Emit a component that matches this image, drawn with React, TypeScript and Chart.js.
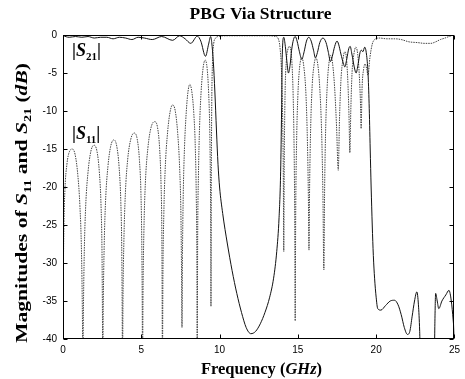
import React, { useEffect, useRef } from "react";
import { Chart, registerables } from "chart.js";

Chart.register(...registerables);

// ---- data ----
const s21Freq = [
  0, 0.4, 0.8, 1.2, 1.6, 2.0, 2.4, 2.8, 3.2, 3.6, 4.0, 4.4, 4.8, 5.2, 5.7, 6.3, 7.0, 7.45, 7.8, 8.16,
  8.58, 8.8, 9.1, 9.3, 9.43, 9.5, 9.6, 9.7, 9.8, 9.9, 10.0, 10.2, 10.5, 10.8, 11.1, 11.4, 11.7, 12.0,
  12.3, 12.6, 12.9, 13.2, 13.45, 13.65, 13.8, 13.9, 13.96, 14.0, 14.1, 14.2, 14.3, 14.4, 14.5, 14.6,
  14.72, 14.83, 14.95, 15.1, 15.25, 15.4, 15.55, 15.7, 15.85, 16.0, 16.12, 16.25, 16.4, 16.6, 16.8,
  16.95, 17.08, 17.2, 17.35, 17.5, 17.6, 17.75, 17.9, 18.0, 18.12, 18.25, 18.34, 18.45, 18.6, 18.72,
  18.85, 18.97, 19.06, 19.15, 19.27, 19.38, 19.48, 19.55, 19.62, 19.68, 19.75, 19.82, 19.9, 20.0,
  20.1, 20.3, 20.6, 20.9, 21.17, 21.4, 21.6, 21.8, 22.0, 22.15, 22.3, 22.45, 22.6, 22.7, 22.78, 22.85,
  23.7, 23.75, 23.8, 23.9, 24.0, 24.2, 24.45, 24.65, 24.8, 24.92, 25.0,
];
const s21Mag = [
  -0.1, -0.3, -0.2, -0.3, -0.2, -0.4, -0.3, -0.3, -0.5, -0.3, -0.4, -0.6, -0.3, -0.4, -0.6, -0.2, -0.7, -0.1, -0.5, -1.1,
  -0.15, -0.8, -2.8, -1.2, -0.2, -1.0, -3.5, -7.5, -12.5, -17, -20, -23.5, -27.5, -31, -34, -36.5, -38.5, -39.3,
  -39, -38, -36.5, -34.5, -32, -28.5, -24, -18, -10, -3, -0.3, -1.5, -3.5, -5, -4, -2,
  -0.6, -0.2, -0.8, -2.2, -3.2, -2.2, -0.8, -0.3, -0.8, -2, -3, -2.3, -1, -0.4, -1,
  -2.3, -3.5, -2.8, -1.5, -0.8, -1.2, -2.5, -3.7, -4.2, -3.2, -1.8, -1.5, -2.5, -4.2, -5.0,
  -3.8, -2.3, -2, -2.2, -1.6, -2.5, -5, -9, -15, -20, -25, -29, -32, -34.5,
  -36, -36.2, -35.6, -35, -34.9, -35.5, -36.8, -38.5, -39.4, -39, -37, -35, -33.8, -35.5, -39, -45,
  -45, -38, -34, -35, -36, -35, -34.2, -33.6, -35, -37.5, -39.5,
];

const s11Freq = [
  0, 0.02, 0.06, 0.12, 0.25, 0.42, 0.6, 0.78, 0.95, 1.08, 1.18, 1.24, 1.27,
  1.3, 1.36, 1.45, 1.6, 1.78, 1.98, 2.17, 2.32, 2.43, 2.49, 2.52, 2.54,
  2.57, 2.63, 2.72, 2.87, 3.05, 3.25, 3.43, 3.58, 3.69, 3.75, 3.78, 3.8,
  3.83, 3.89, 3.98, 4.13, 4.33, 4.55, 4.74, 4.88, 4.98, 5.03, 5.06, 5.08,
  5.11, 5.17, 5.26, 5.42, 5.62, 5.85, 6.04, 6.17, 6.26, 6.31, 6.33, 6.35,
  6.38, 6.44, 6.53, 6.68, 6.85, 7.0, 7.17, 7.32, 7.45, 7.53, 7.57, 7.6,
  7.63, 7.68, 7.76, 7.87, 7.98, 8.1, 8.23, 8.35, 8.45, 8.51, 8.55, 8.57,
  8.6, 8.65, 8.72, 8.82, 8.95, 9.08, 9.2, 9.3, 9.37, 9.41, 9.44, 9.45,
  9.47, 9.5, 9.55, 9.62, 9.75, 9.9, 10.5, 11, 12, 13, 13.6, 13.75, 13.85, 13.95, 14.02, 14.07, 14.1,
  14.13, 14.18, 14.26, 14.35, 14.45, 14.55, 14.63, 14.7, 14.76, 14.8, 14.83,
  14.86, 14.92, 15.0, 15.1, 15.25, 15.4, 15.52, 15.61, 15.67, 15.71,
  15.75, 15.82, 15.92, 16.03, 16.15, 16.28, 16.4, 16.52, 16.6, 16.66,
  16.71, 16.78, 16.88, 16.98, 17.1, 17.22, 17.35, 17.47, 17.58,
  17.66, 17.75, 17.88, 18.0, 18.1, 18.2, 18.27, 18.32,
  18.38, 18.46, 18.58, 18.7, 18.82, 18.93, 19.0, 19.04,
  19.1, 19.2, 19.3, 19.4, 19.48, 19.6, 19.75, 19.9, 20.2, 20.7, 21.2, 21.6, 22.1, 22.65, 23.1, 23.5,
  23.8, 24.1, 24.4, 24.65, 25.0,
];
const s11Mag = [
  -45, -33, -25, -20.5, -17, -15.3, -15, -15.8, -18.5, -22.5, -28.5, -37, -45,
  -37, -28.5, -22.5, -18, -15.3, -14.5, -15.3, -18, -22.5, -28.5, -37, -45,
  -36, -27.8, -21.8, -17.3, -14.6, -13.8, -14.6, -17.3, -21.8, -27.8, -36, -45,
  -35, -27, -21, -16.4, -13.7, -12.9, -13.7, -16.4, -21, -27, -35, -45,
  -34, -25.5, -19.5, -14.9, -12.2, -11.4, -12.2, -14.9, -19.5, -25.5, -33, -45,
  -32, -23.5, -17.5, -12.8, -10, -9.2, -10, -12.8, -17.5, -23.5, -31, -38.5,
  -29, -21, -14.8, -10.2, -7.5, -6.5, -7.5, -10.2, -14.8, -21, -30, -45,
  -27, -18.5, -12.2, -7.5, -4.3, -3.3, -4.3, -7.5, -12.2, -18.5, -27, -35.7,
  -20, -9, -3.5, -1.2, -0.4, -0.2, -0.1, -0.1, -0.1, -0.1, -0.2, -0.5, -1.5, -4.5, -10, -18, -28.5,
  -17, -8, -3.5, -2, -1.5, -2, -4, -8, -15, -24, -37.6,
  -24, -14, -8, -4.5, -3, -4.5, -8, -14, -21, -28.3,
  -20, -12, -6.5, -4, -3, -4, -7, -13, -21, -30.9,
  -20, -12, -6.5, -3.8, -2.7, -3.8, -7, -12, -17.8,
  -11, -6, -3.2, -2.2, -3, -6.5, -11, -15.5,
  -10, -5, -2.5, -1.6, -2.5, -5.5, -9, -12.3,
  -7, -4.5, -3.8, -4.5, -5.3, -3, -1.2, -0.6, -0.4, -0.5, -0.5, -0.6, -0.9, -1.0, -1.1, -1.1,
  -0.9, -0.6, -0.4, -0.2, 0,
];

const xTickValues = [0, 5, 10, 15, 20, 25];
const yTickValues = [0, -5, -10, -15, -20, -25, -30, -35, -40];

const titleText = "PBG Via Structure";

const SERIF = '"Liberation Serif", "Times New Roman", serif';
const SANS = '"Liberation Sans", Arial, sans-serif';

type Run = { t: string; f: string; dy?: number };

function runsWidth(ctx: CanvasRenderingContext2D, runs: Run[]) {
  let w = 0;
  for (const r of runs) {
    ctx.font = r.f;
    w += ctx.measureText(r.t).width;
  }
  return w;
}
function drawRuns(ctx: CanvasRenderingContext2D, runs: Run[], x: number, y: number) {
  let cx = x;
  for (const r of runs) {
    ctx.font = r.f;
    ctx.fillText(r.t, cx, y + (r.dy || 0));
    cx += ctx.measureText(r.t).width;
  }
}

const overlay = {
  id: "overlay",
  afterDraw(chart: any) {
    const { ctx, chartArea: a, scales } = chart;
    const xs = scales.x;
    const ys = scales.y;
    ctx.save();
    ctx.strokeStyle = "#000";
    ctx.lineWidth = 1;
    const L = Math.round(a.left) + 0.5;
    const R = Math.round(a.right) - 0.5;
    const T = Math.round(a.top) + 0.5;
    const B = Math.round(a.bottom) - 0.5;
    ctx.strokeRect(L, T, R - L, B - T);
    ctx.beginPath();
    for (const v of xTickValues) {
      const px = Math.round(xs.getPixelForValue(v)) + 0.5;
      ctx.moveTo(px, B);
      ctx.lineTo(px, B - 4);
      ctx.moveTo(px, T);
      ctx.lineTo(px, T + 4);
    }
    for (const v of yTickValues) {
      const py = Math.round(ys.getPixelForValue(v)) + 0.5;
      ctx.moveTo(L, py);
      ctx.lineTo(L + 4, py);
      ctx.moveTo(R, py);
      ctx.lineTo(R - 4, py);
    }
    ctx.stroke();

    ctx.fillStyle = "#000";
    ctx.textBaseline = "alphabetic";
    ctx.textAlign = "left";

    // title
    const tRuns: Run[] = [{ t: titleText, f: `bold 17.5px ${SERIF}` }];
    const tw = runsWidth(ctx, tRuns);
    drawRuns(ctx, tRuns, 260.5 - tw / 2, 19);

    // x label
    const xRuns: Run[] = [
      { t: "Frequency (", f: `bold 16.5px ${SERIF}` },
      { t: "GHz", f: `bold italic 16.5px ${SERIF}` },
      { t: ")", f: `bold 16.5px ${SERIF}` },
    ];
    const xw = runsWidth(ctx, xRuns);
    drawRuns(ctx, xRuns, 261.5 - xw / 2, 374);

    // y label
    const fs = 17;
    const yRuns: Run[] = [
      { t: "Magnitudes of ", f: `bold ${fs}px ${SERIF}` },
      { t: "S", f: `bold italic ${fs}px ${SERIF}` },
      { t: "11", f: `bold 11px ${SERIF}`, dy: 4 },
      { t: " and ", f: `bold ${fs}px ${SERIF}` },
      { t: "S", f: `bold italic ${fs}px ${SERIF}` },
      { t: "21", f: `bold 11px ${SERIF}`, dy: 4 },
      { t: " (", f: `bold ${fs}px ${SERIF}` },
      { t: "dB", f: `bold italic ${fs}px ${SERIF}` },
      { t: ")", f: `bold ${fs}px ${SERIF}` },
    ];
    const yw = runsWidth(ctx, yRuns);
    const targetLen = 280;
    ctx.save();
    ctx.translate(27, 203);
    ctx.rotate(-Math.PI / 2);
    ctx.scale(targetLen / yw, 1);
    drawRuns(ctx, yRuns, -yw / 2, 0);
    ctx.restore();

    // curve labels
    const lab = (sub: string, x: number, y: number) => {
      const runs: Run[] = [
        { t: "|", f: `bold 18px ${SERIF}` },
        { t: "S", f: `bold italic 18px ${SERIF}` },
        { t: sub, f: `bold 11px ${SERIF}`, dy: 4 },
        { t: "|", f: `bold 18px ${SERIF}` },
      ];
      drawRuns(ctx, runs, x, y);
    };
    lab("21", 72, 56);
    lab("11", 72, 139);
    ctx.restore();
  },
};

export default function App() {
  const ref = useRef<HTMLCanvasElement>(null);
  useEffect(() => {
    const canvas = ref.current;
    if (!canvas) return;
    const chart = new Chart(canvas, {
      type: "line",
      data: {
        datasets: [
          {
            label: "S21",
            data: s21Freq.map((x, i) => ({ x, y: s21Mag[i] })),
            borderColor: "#111",
            borderWidth: 1,
            pointRadius: 0,
            cubicInterpolationMode: "monotone",
          },
          {
            label: "S11",
            data: s11Freq.map((x, i) => ({ x, y: s11Mag[i] })),
            borderColor: "#444",
            borderWidth: 1,
            borderDash: [1.5, 1],
            pointRadius: 0,
            cubicInterpolationMode: "monotone",
          },
        ],
      },
      options: {
        animation: false,
        responsive: false,
        events: [],
        layout: { padding: { left: 0, top: 35, right: 8, bottom: 0 } },
        plugins: {
          legend: { display: false },
          title: { display: false },
          tooltip: { enabled: false },
        },
        scales: {
          x: {
            type: "linear",
            min: 0,
            max: 25,
            afterFit: (s: any) => {
              s.height = 40;
            },
            grid: { display: false, drawTicks: false },
            border: { display: false },
            ticks: {
              stepSize: 5,
              padding: 5,
              color: "#000",
              font: { family: SANS, size: 10 },
              maxRotation: 0,
            },
          },
          y: {
            type: "linear",
            min: -40,
            max: 0,
            afterFit: (s: any) => {
              s.width = 63;
            },
            grid: { display: false, drawTicks: false },
            border: { display: false },
            ticks: {
              stepSize: 5,
              padding: 6,
              color: "#000",
              font: { family: SANS, size: 10 },
            },
          },
        },
      },
      plugins: [overlay],
    } as any);
    return () => chart.destroy();
  }, []);
  return (
    <div style={{ position: "absolute", left: 0, top: 0, width: 465, height: 379, background: "#fff" }}>
      <canvas ref={ref} width={465} height={379} style={{ width: 465, height: 379, display: "block" }} />
    </div>
  );
}
